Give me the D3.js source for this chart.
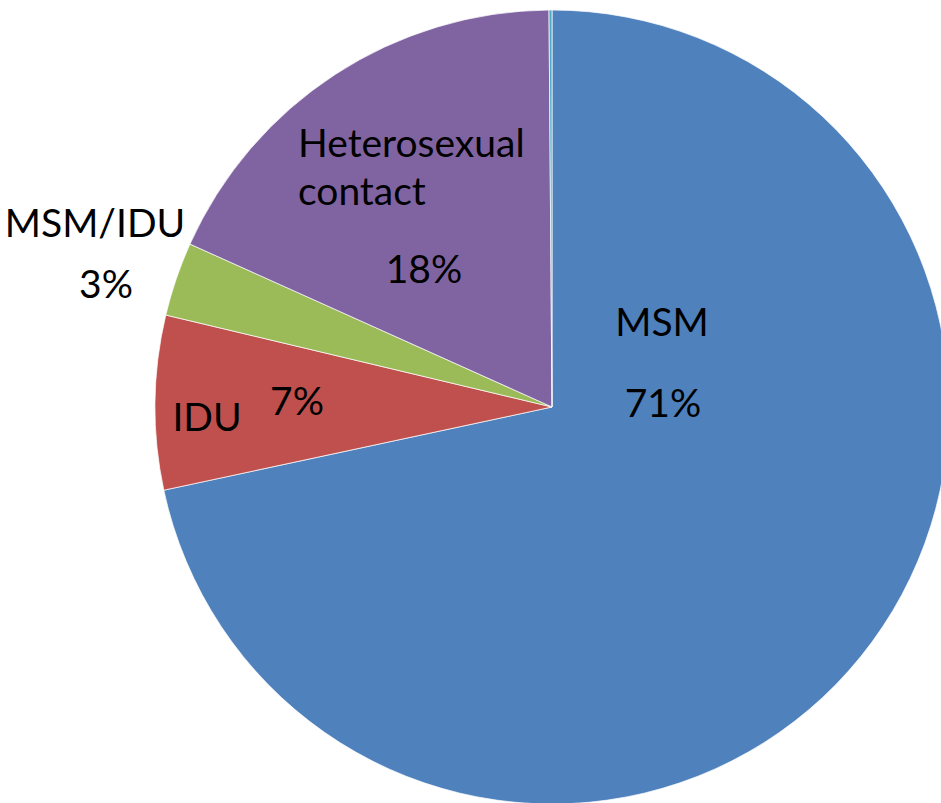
<!DOCTYPE html>
<html>
<head>
<meta charset="utf-8">
<script src="https://cdn.jsdelivr.net/npm/d3@7"></script>
<style>
  body { margin: 0; background: #fff; }
  text { font-family: Lato, "Open Sans", sans-serif; fill: #000; }
</style>
</head>
<body>
<script>
// categories and shares (%), clockwise from 12 o'clock
var categories = ["MSM", "IDU", "MSM/IDU", "Heterosexual contact", "Other"];
var shares = [71.64, 7.08, 3.01, 18.15, 0.12];
var colors = ["#4f81bd", "#c0504d", "#9bbb59", "#8064a2", "#4bacc6"];

// label lines per slice
var labelLines = [
    ["MSM", "71%"],
    ["IDU", "7%"],
    ["MSM/IDU", "3%"],
    ["Heterosexual", "contact", "18%"],
    []
];

var width = 941,
    height = 803,
    cx = 552,
    cy = 407,
    radius = 397;

// where each text line sits, relative to the pie centre (x, baseline y, anchor)
var labelPos = [
    [[110, -71, "middle"], [111, 10, "middle"]],
    [[-345, 24, "middle"], [-255, 8, "middle"]],
    [[-457, -170, "middle"], [-446, -109, "middle"]],
    [[-254, -250, "start"], [-254, -202, "start"], [-128, -124, "middle"]],
    []
];

var data = categories.map(function (c, i) {
    return { name: c, value: shares[i], color: colors[i], lines: labelLines[i], pos: labelPos[i] };
});

var pie = d3.pie()
    .sort(null)
    .value(function (d) { return d.value; });

var arc = d3.arc()
    .innerRadius(0)
    .outerRadius(radius);

var svg = d3.select("body").append("svg")
    .attr("width", width)
    .attr("height", height);

var g = svg.append("g")
    .attr("transform", "translate(" + cx + "," + cy + ")");

g.selectAll(".slice")
    .data(pie(data))
    .enter().append("path")
    .attr("class", "slice")
    .attr("d", arc)
    .attr("fill", function (d) { return d.data.color; })
    .attr("stroke", "#fff")
    .attr("stroke-opacity", 0.7)
    .attr("stroke-width", 1);

// labels
data.forEach(function (d) {
    d.lines.forEach(function (line, j) {
        var p = d.pos[j];
        g.append("text")
            .attr("x", p[0])
            .attr("y", p[1])
            .attr("text-anchor", p[2])
            .style("font-size", "39px")
            .text(line);
    });
});
</script>
</body>
</html>
